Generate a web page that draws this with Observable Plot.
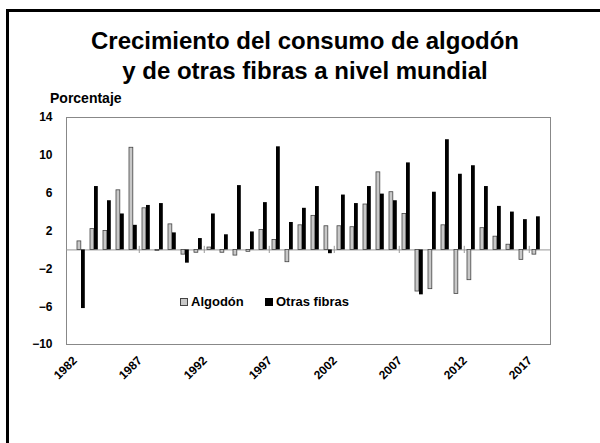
<!DOCTYPE html>
<html><head><meta charset="utf-8">
<script src="https://cdn.jsdelivr.net/npm/d3@7"></script>
<script src="https://cdn.jsdelivr.net/npm/@observablehq/plot@0.6"></script>
<style>
body{margin:0;background:#fff;font-family:"Liberation Sans",Arial,sans-serif;}
#wrap{position:relative;width:600px;height:443px;overflow:hidden;}
#border{position:absolute;left:6px;top:9px;width:700px;height:500px;border-left:3px solid #000;border-top:3px solid #000;}
.t{position:absolute;left:0;width:610px;text-align:center;font-weight:bold;font-size:24px;color:#000;}
#ylab{position:absolute;left:50px;top:90px;font-weight:bold;font-size:14px;}
.leg{position:absolute;top:294px;font-weight:bold;font-size:13px;display:flex;align-items:center;}
.sw{width:6px;height:6px;margin-right:3px;display:inline-block;}
svg{position:absolute;left:0;top:0;}
</style></head>
<body><div id="wrap">
<div id="border"></div>
<div class="t" style="top:27px">Crecimiento del consumo de algodón</div>
<div class="t" style="top:57px">y de otras fibras a nivel mundial</div>
<div id="ylab">Porcentaje</div>
<div class="leg" style="left:180px"><span class="sw" style="background:#c8c8c8;border:1px solid #444;"></span>Algodón</div>
<div class="leg" style="left:265px"><span class="sw" style="background:#000;border:1px solid #000;"></span>Otras fibras</div>
<div id="chart"></div>
</div>
<script>
const years = d3.range(1982, 2018);
const algodon = [0.9, 2.2, 2.0, 6.3, 10.8, 4.4, -0.1, 2.7, -0.5, -0.3,
  0.25, -0.3, -0.6, -0.2, 2.1, 1.05, -1.3, 2.6, 3.6, 2.5,
  2.5, 2.4, 4.8, 8.2, 6.1, 3.8, -4.4, -4.15, 2.6, -4.65,
  -3.2, 2.3, 1.4, 0.55, -1.05, -0.5];
const otras = [-6.2, 6.7, 5.2, 3.8, 2.6, 4.7, 4.9, 1.8, -1.4, 1.2,
  3.8, 1.6, 6.8, 1.9, 5.0, 10.9, 2.9, 4.4, 6.7, -0.4,
  5.8, 4.9, 6.7, 5.9, 5.2, 9.2, -4.75, 6.1, 11.65, 8.0,
  8.9, 6.7, 4.6, 4.0, 3.2, 3.5];
const yTicks = [14, 10, 6, 2, -2, -6, -10];
const xLabels = [1982, 1987, 1992, 1997, 2002, 2007, 2012, 2017];
const zeroTicks = [1987, 1992, 1997, 2002, 2007, 2012, 2017];

const rowsA = years.map((y, i) => ({year: y, v: algodon[i]}));
const rowsO = years.map((y, i) => ({year: y, v: otras[i]}));

const ml = 66, mr = 50;
const step = (600 - ml - mr) / years.length;

const chart = Plot.plot({
  width: 600, height: 443,
  marginLeft: ml, marginRight: mr, marginTop: 117, marginBottom: 99,
  style: {fontFamily: "Liberation Sans, Arial, sans-serif", fontSize: "12px", fontWeight: "bold", color: "#000", background: "transparent"},
  x: {type: "band", domain: years, padding: 0, label: null},
  y: {domain: [-10, 14], label: null},
  marks: [
    Plot.frame({stroke: "#888"}),
    Plot.ruleY([0], {stroke: "#999", strokeWidth: 1}),
    Plot.ruleX(zeroTicks, {x: d => d, y1: -0.38, y2: 0.38, dx: -step / 2, stroke: "#999"}),
    Plot.barY(rowsA, {x: "year", y: "v", fill: "#c8c8c8", stroke: "#444", strokeWidth: 0.8, insetLeft: 3, insetRight: 6.2}),
    Plot.barY(rowsO, {x: "year", y: "v", fill: "#000", insetLeft: 7, insetRight: 2.2}),
    Plot.axisY({ticks: yTicks, tickSize: 0, tickPadding: 14, fontSize: 12, fontWeight: "bold"}),
    Plot.axisX({ticks: xLabels, tickFormat: d => String(d), tickSize: 0, tickPadding: 14, tickRotate: -45, dx: -6, fontSize: 12, fontWeight: "bold"})
  ]
});
document.getElementById("chart").appendChild(chart);
</script>
</body></html>
